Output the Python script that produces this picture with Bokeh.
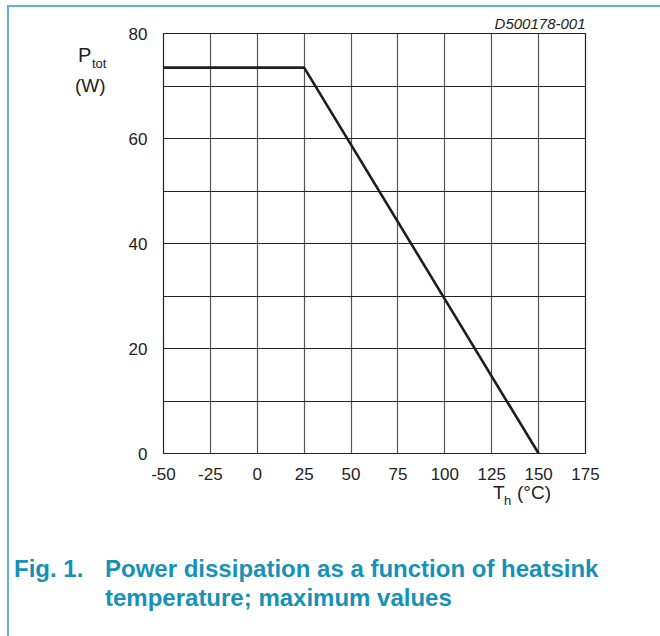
from bokeh.plotting import figure
from bokeh.models import FixedTicker, Range1d, Div
from bokeh.layouts import column, row
from bokeh.embed import file_html
from bokeh.resources import INLINE

# data
temp_c = [-50, 25, 150]
ptot_w = [73.5, 73.5, 0]
x_ticks = [-50, -25, 0, 25, 50, 75, 100, 125, 150, 175]
y_ticks = [0, 20, 40, 60, 80]
y_grid = [0, 10, 20, 30, 40, 50, 60, 70, 80]

# page geometry (content origin after teal border)
OX, OY = 9, 7
LEFT_W = 110                      # width of the left label column
FIG_X = OX + LEFT_W
FIG_W = 660 - FIG_X
FIG_H = 485 - OY
FL, FR, FT, FB = 163 - FIG_X, 660 - 585, 33 - OY, 485 - 453

p = figure(width=FIG_W, height=FIG_H, output_backend="svg", toolbar_location=None,
           x_range=Range1d(-50, 175), y_range=Range1d(0, 80),
           min_border_left=FL, min_border_right=FR, min_border_top=FT, min_border_bottom=FB)

p.title.text = "D500178-001"
p.title.align = "right"
p.title.text_font = "Liberation Sans"
p.title.text_font_style = "italic"
p.title.text_font_size = "15px"
p.title.text_color = "#222222"
p.title.standoff = 4

p.outline_line_color = "#222222"
p.outline_line_width = 1.2

p.xaxis.ticker = FixedTicker(ticks=x_ticks)
p.yaxis.ticker = FixedTicker(ticks=y_ticks)
p.xaxis.major_label_overrides = {-50: "-50", -25: "-25"}
for ax in (p.xaxis[0], p.yaxis[0]):
    ax.axis_line_color = None
    ax.major_tick_line_color = None
    ax.minor_tick_line_color = None
    ax.major_label_text_font = "Liberation Sans"
    ax.major_label_text_font_size = "17px"
    ax.major_label_text_color = "#222222"
p.xaxis.major_label_standoff = 8
p.yaxis.major_label_standoff = 10

p.xgrid.ticker = FixedTicker(ticks=x_ticks)
p.ygrid.ticker = FixedTicker(ticks=y_grid)
p.xgrid.grid_line_color = "#555555"
p.ygrid.grid_line_color = "#222222"
p.xgrid.grid_line_width = 1.2
p.ygrid.grid_line_width = 1.2

p.line(temp_c, ptot_w, line_color="#1e1e1e", line_width=2.6)


def span(text, left, base, size, ox, oy, color="#222222", weight="normal", style="normal"):
    top = base - oy - 0.8465 * size
    return ('<span style="position:absolute; left:%.1fpx; top:%.1fpx; '
            "font-family:'Liberation Sans', Arial, sans-serif; font-size:%spx; line-height:1; "
            'white-space:pre; color:%s; font-weight:%s; font-style:%s;">%s</span>'
            % (left - ox, top, size, color, weight, style, text))


def box(w, h, spans):
    return ('<div style="position:relative; width:%dpx; height:%dpx; margin:0; padding:0;">%s</div>'
            % (w, h, "".join(spans)))


left_spans = [
    span("P", 78, 62, 20, OX, OY),
    span("tot", 92, 68, 13, OX, OY),
    span("(W)", 75, 92, 19, OX, OY),
]
div_left = Div(text=box(LEFT_W, FIG_H, left_spans), width=LEFT_W, height=FIG_H,
               styles={"margin": "0", "padding": "0"})

cap = "#1791b5"
BOT_Y = OY + FIG_H
BOT_H = 636 - BOT_Y
bottom_spans = [
    span("T", 493, 499, 19, OX, BOT_Y),
    span("h", 504, 505, 13, OX, BOT_Y),
    span("(°C)", 517, 499, 19, OX, BOT_Y),
    span("Fig. 1.", 14, 577, 24, OX, BOT_Y, color=cap, weight="bold"),
    span("Power dissipation as a function of heatsink", 105, 577, 24, OX, BOT_Y,
         color=cap, weight="bold"),
    span("temperature; maximum values", 105, 606, 24, OX, BOT_Y, color=cap, weight="bold"),
]
div_bottom = Div(text=box(660 - OX, BOT_H, bottom_spans), width=660 - OX, height=BOT_H,
                 styles={"margin": "0", "padding": "0"})

layout = column(row(div_left, p, spacing=0), div_bottom, spacing=0,
                styles={"border-top": "2px solid #62b2c8", "border-left": "2px solid #62b2c8",
                        "margin-left": "7px", "margin-top": "5px"})

open("out.html", "w").write(file_html(layout, INLINE))
